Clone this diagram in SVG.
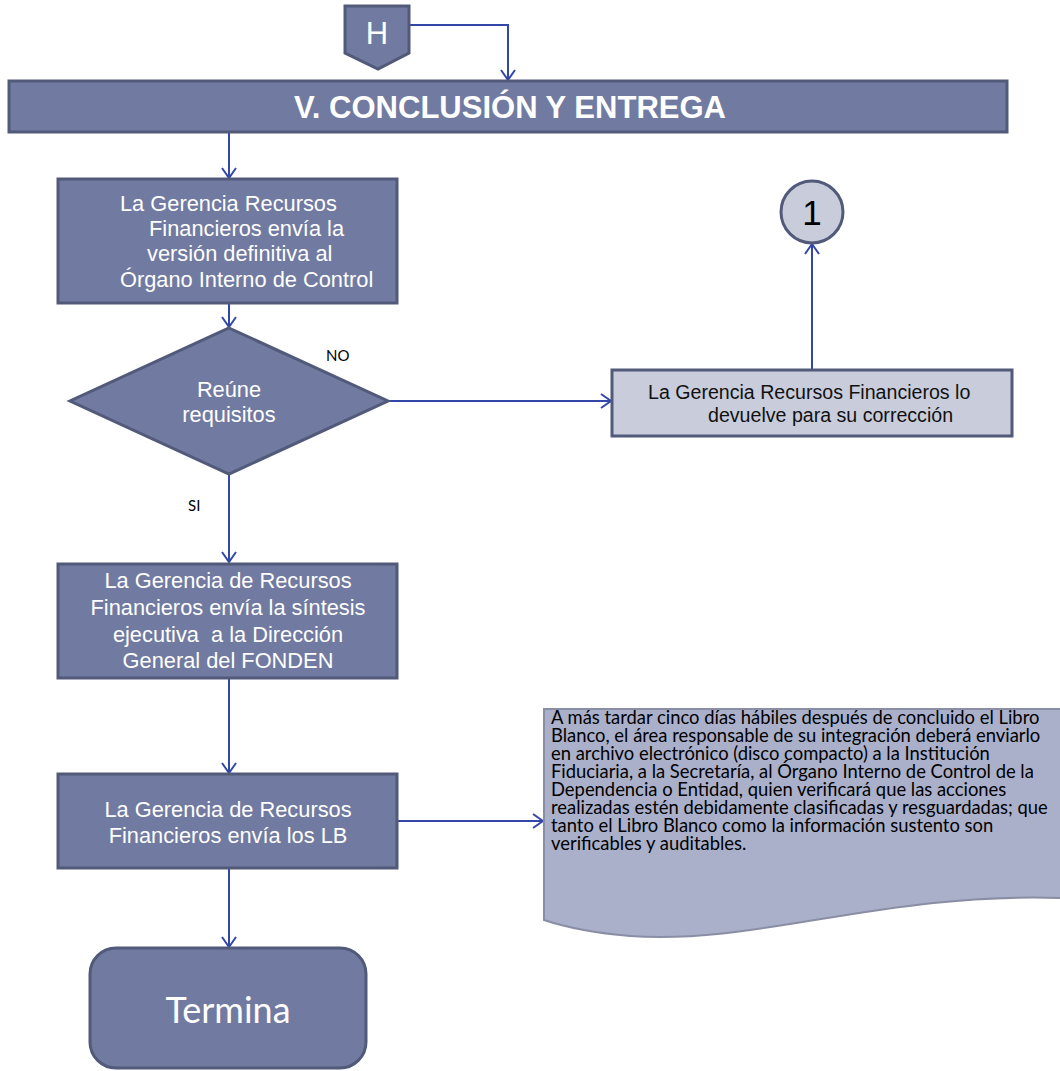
<svg xmlns="http://www.w3.org/2000/svg" width="1060" height="1071" viewBox="0 0 1060 1071">
<defs>
<style>
.node{fill:#717aa0;stroke:#525a7a;stroke-width:3}
.light{fill:#c9ccdb;stroke:#525a7a;stroke-width:3}
.wt{fill:#ffffff;font-family:"Liberation Sans",Arial,sans-serif;font-size:21.8px}
.bt{fill:#111111;font-family:"Liberation Sans",Arial,sans-serif;font-size:19.6px}
.lb{fill:#000000;font-family:Lato,"Open Sans",sans-serif;font-size:15px}
.doc{fill:#000000;font-family:Lato,"Open Sans",sans-serif;font-size:18.4px}
.edge{fill:none;stroke:#3347a8;stroke-width:2}
</style>
<marker id="arr" viewBox="0 0 12 16" refX="11" refY="8" markerWidth="12" markerHeight="16" markerUnits="userSpaceOnUse" orient="auto">
<path d="M1,1 L11,8 L1,15" fill="none" stroke="#3347a8" stroke-width="2"/>
</marker>
</defs>
<rect width="1060" height="1071" fill="#ffffff"/>

<g id="connectors">
<path class="edge" d="M409,25 H508 V80" marker-end="url(#arr)"/>
<path class="edge" d="M229,132 V178" marker-end="url(#arr)"/>
<path class="edge" d="M229,303 V327" marker-end="url(#arr)"/>
<path class="edge" d="M388,401 H611" marker-end="url(#arr)"/>
<path class="edge" d="M812,370 V244" marker-end="url(#arr)"/>
<path class="edge" d="M229,474 V562" marker-end="url(#arr)"/>
<path class="edge" d="M229,678 V773" marker-end="url(#arr)"/>
<path class="edge" d="M397,821 H543" marker-end="url(#arr)"/>
<path class="edge" d="M229,868 V947" marker-end="url(#arr)"/>
</g>

<g id="node-H">
<polygon class="node" points="345,6 409,6 409,53 378,69 345,53"/>
<text x="377" y="44" text-anchor="middle" fill="#ffffff" font-family="Liberation Sans,Arial,sans-serif" font-size="31">H</text>
</g>

<g id="node-header">
<rect class="node" x="9" y="81" width="998" height="51"/>
<text x="510" y="118" text-anchor="middle" fill="#ffffff" font-family="Liberation Sans,Arial,sans-serif" font-weight="bold" font-size="31" textLength="432" lengthAdjust="spacingAndGlyphs">V. CONCLUSIÓN Y ENTREGA</text>
</g>

<g id="node-envia-version">
<rect class="node" x="58" y="179" width="339" height="124"/>
<text class="wt" x="120" y="211">La Gerencia Recursos</text>
<text class="wt" x="149" y="236">Financieros envía la</text>
<text class="wt" x="147" y="261">versión definitiva al</text>
<text class="wt" x="120" y="287">Órgano Interno de Control</text>
</g>

<g id="node-reune">
<polygon class="node" points="229,328 388,401 229,474 70,401"/>
<text class="wt" x="229" y="397" text-anchor="middle">Reúne</text>
<text class="wt" x="229" y="422" text-anchor="middle">requisitos</text>
</g>
<text class="lb" x="326" y="361">NO</text>
<text class="lb" x="188" y="511">SI</text>

<g id="node-devuelve">
<rect class="light" x="612" y="370" width="400" height="66"/>
<text class="bt" x="648" y="399">La Gerencia Recursos Financieros lo</text>
<text class="bt" x="708" y="422">devuelve para su corrección</text>
</g>

<g id="node-1">
<circle class="light" cx="812" cy="212" r="31"/>
<text x="812" y="225" text-anchor="middle" fill="#000000" font-family="Liberation Sans,Arial,sans-serif" font-size="35">1</text>
</g>

<g id="node-sintesis">
<rect class="node" x="58" y="564" width="339" height="114"/>
<text class="wt" x="228" y="588" text-anchor="middle">La Gerencia de Recursos</text>
<text class="wt" x="228" y="615" text-anchor="middle">Financieros envía la síntesis</text>
<text class="wt" x="228" y="642" text-anchor="middle" xml:space="preserve">ejecutiva  a la Dirección</text>
<text class="wt" x="228" y="668" text-anchor="middle">General del FONDEN</text>
</g>

<g id="node-envia-lb">
<rect class="node" x="58" y="774" width="339" height="94"/>
<text class="wt" x="228" y="817" text-anchor="middle">La Gerencia de Recursos</text>
<text class="wt" x="228" y="843" text-anchor="middle">Financieros envía los LB</text>
</g>

<g id="node-documento">
<path d="M544,709 L1062,709 L1062,898 C880,892 760,945 630,936 C595,933 565,927 544,920 Z" fill="#aab0ca" stroke="#8a8ea4" stroke-width="2"/>
<text class="doc"><tspan x="551" y="724">A más tardar cinco días hábiles después de concluido el Libro</tspan><tspan x="551" dy="18">Blanco, el área responsable de su integración deberá enviarlo</tspan><tspan x="551" dy="18">en archivo electrónico (disco compacto) a la Institución</tspan><tspan x="551" dy="18">Fiduciaria, a la Secretaría, al Órgano Interno de Control de la</tspan><tspan x="551" dy="18">Dependencia o Entidad, quien verificará que las acciones</tspan><tspan x="551" dy="18">realizadas estén debidamente clasificadas y resguardadas; que</tspan><tspan x="551" dy="18">tanto el Libro Blanco como la información sustento son</tspan><tspan x="551" dy="18">verificables y auditables.</tspan></text>
</g>

<g id="node-termina">
<rect class="node" x="90" y="948" width="276" height="120" rx="26"/>
<text x="228" y="1023" text-anchor="middle" fill="#ffffff" font-family="Lato,'Open Sans',sans-serif" font-size="36">Termina</text>
</g>
</svg>
